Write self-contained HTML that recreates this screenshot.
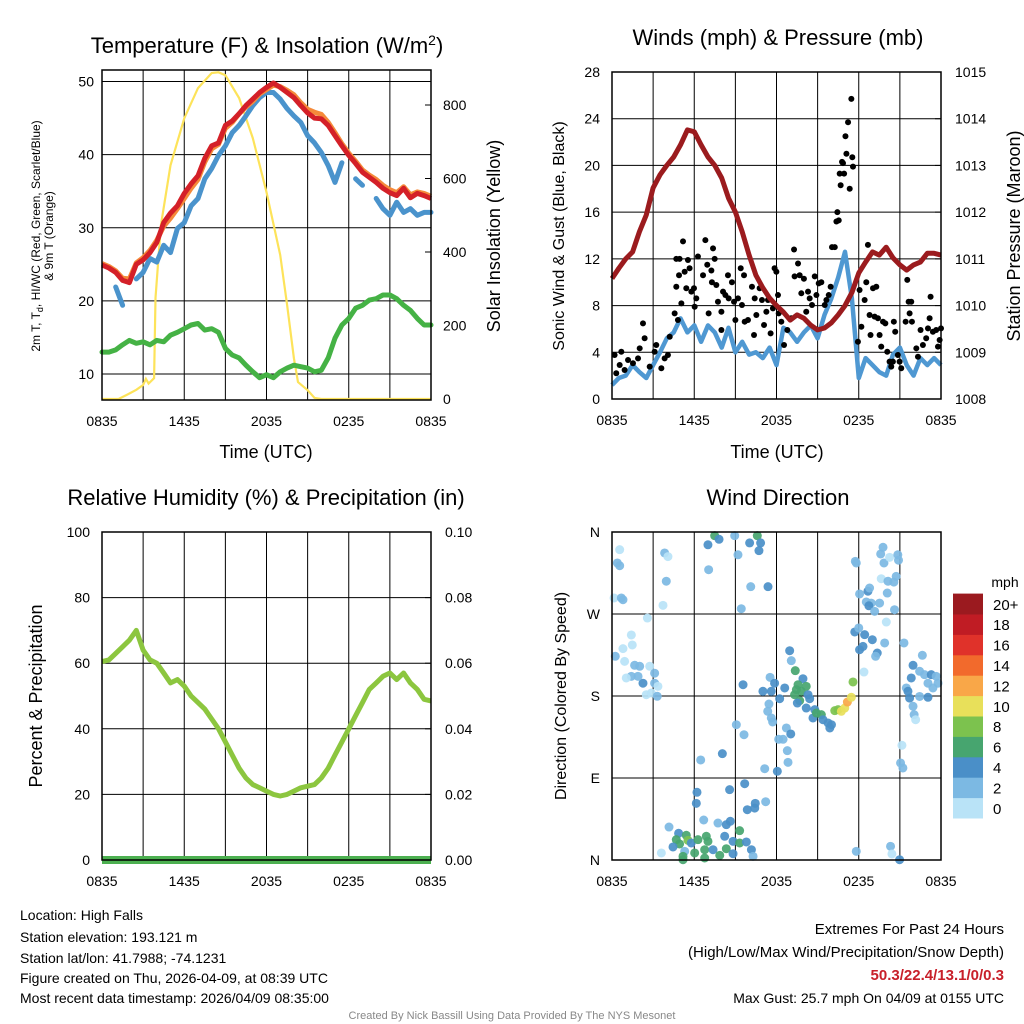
<!DOCTYPE html>
<html><head><meta charset="utf-8"><style>
body{margin:0;background:#fff;}
svg{display:block;font-family:"Liberation Sans",Arial,sans-serif;}
</style></head><body>
<svg id="c" width="1024" height="1024" viewBox="0 0 1024 1024">
<rect width="1024" height="1024" fill="#fff"/>
<g id="p1"></g>
<g id="p2"></g>
<g id="p3"></g>
<g id="p4"></g>
<text x="267" y="53" font-size="22" text-anchor="middle">Temperature (F) &amp; Insolation (W/m<tspan dy="-8" font-size="14">2</tspan><tspan dy="8">)</tspan></text>
<text x="778" y="45" font-size="22" text-anchor="middle">Winds (mph) &amp; Pressure (mb)</text>
<text x="266" y="505" font-size="22" text-anchor="middle">Relative Humidity (%) &amp; Precipitation (in)</text>
<text x="778" y="505" font-size="22" text-anchor="middle">Wind Direction</text>
<text transform="translate(40,236) rotate(-90)" font-size="12" text-anchor="middle">2m T, T<tspan font-size="9" dy="3">d</tspan><tspan dy="-3">, HI/WC (Red, Green, Scarlet/Blue)</tspan></text>
<text transform="translate(53,236) rotate(-90)" font-size="12" text-anchor="middle">&amp; 9m T (Orange)</text>
<text transform="translate(500,236) rotate(-90)" font-size="18" text-anchor="middle">Solar Insolation (Yellow)</text>
<text transform="translate(564,236) rotate(-90)" font-size="16" text-anchor="middle">Sonic Wind &amp; Gust (Blue, Black)</text>
<text transform="translate(1020,236) rotate(-90)" font-size="18" text-anchor="middle">Station Pressure (Maroon)</text>
<text transform="translate(42,696) rotate(-90)" font-size="18" text-anchor="middle">Percent &amp; Precipitation</text>
<text transform="translate(566,696) rotate(-90)" font-size="16" text-anchor="middle">Direction (Colored By Speed)</text>
<text x="266" y="458" font-size="18" text-anchor="middle">Time (UTC)</text>
<text x="777" y="458" font-size="18" text-anchor="middle">Time (UTC)</text>
<g font-size="14">
<text x="20" y="920">Location: High Falls</text>
<text x="20" y="942">Station elevation: 193.121 m</text>
<text x="20" y="963">Station lat/lon: 41.7988; -74.1231</text>
<text x="20" y="983">Figure created on Thu, 2026-04-09, at 08:39 UTC</text>
<text x="20" y="1003">Most recent data timestamp: 2026/04/09 08:35:00</text>
</g>
<g font-size="15" text-anchor="end">
<text x="1004" y="934">Extremes For Past 24 Hours</text>
<text x="1004" y="957">(High/Low/Max Wind/Precipitation/Snow Depth)</text>
<text x="1004" y="980" fill="#c8202a" font-weight="bold">50.3/22.4/13.1/0/0.3</text>
<text x="1004" y="1003" font-size="14">Max Gust: 25.7 mph On 04/09 at 0155 UTC</text>
</g>
<text x="512" y="1019" font-size="11" fill="#888" text-anchor="middle">Created By Nick Bassill Using Data Provided By The NYS Mesonet</text>
</svg>
<script>
const hours=[0,0.5,1,1.5,2,2.5,3,3.5,4,4.5,5,5.5,6,6.5,7,7.5,8,8.5,9,9.5,10,10.5,11,11.5,12,12.5,13,13.5,14,14.5,15,15.5,16,16.5,17,17.5,18,18.5,19,19.5,20,20.5,21,21.5,22,22.5,23,23.5,24];
const xTickLabels=["0835","1435","2035","0235","0835"];
const tempRed=[24.9,24.5,23.9,22.8,22.5,25,25.6,26.6,28,30.7,32,33,34.7,36,37.1,39.5,41.2,41.6,44,44.6,45.6,46.7,47.6,48.5,49.2,49.8,49.2,48.5,47.8,46.7,45.7,45,44.9,44,42.6,41.2,39.9,38.8,37.6,36.9,36.2,35.4,34.8,34.4,35.4,34.1,34.7,34.4,34];
const temp9m=[25.1,24.7,24.1,23.1,23.0,25.2,25.9,26.9,28.3,30.2,31.3,32.6,34.0,35.4,36.6,39.0,40.8,41.4,43.6,44.4,45.6,46.5,47.3,48.3,48.9,49.5,49.3,48.8,48.2,47.1,46.2,45.8,45.5,44.4,43.0,41.5,40.2,39.1,37.9,37.2,36.6,35.8,35.2,34.8,35.6,34.5,34.9,34.7,34.3];
const windChill=[null,null,21.9,19.4,null,23,23.9,25.8,25.3,27.6,26.6,29.9,30.7,33,34,36.7,38.1,39.9,41.2,43,44,45.3,46.7,47.8,48.5,48.5,47.6,46.3,45.3,44.4,42.6,41.6,40.3,38.5,36.2,38.9,null,36.7,35.8,null,34,32.6,31.7,33.5,32.1,32.6,31.7,32.1,32.1];
const dewPoint=[13,13,13.3,14,14.6,14.2,14.4,14,14.6,14.4,15.3,15.7,16.2,16.7,16.9,16,16.2,15.7,13.5,12.6,12.2,11.2,10.3,9.5,9.9,9.5,10.3,10.8,11.2,11,10.8,10.3,10.5,12.2,14.9,16.7,17.6,19,19.4,20.1,20.3,20.8,20.8,20.3,19.4,18.7,17.6,16.7,16.7];
const solHours=[0,1.2,2,2.5,3,3.2,3.4,3.8,3.9,4.3,5,6,7,8,8.5,9,10,11,12,13,13.5,14,14.3,15,15.5,16,24];
const solVals=[0,0,15,25,38,55,42,57,275,473,636,764,846,887,889,881,819,710,563,392,256,111,46,24,3,0,0];
const tempTicks=[10,20,30,40,50];
const solTicks=[0,200,400,600,800];
const pressure=[1010.58,1010.8,1011.0,1011.15,1011.58,1011.94,1012.52,1012.8,1013.0,1013.18,1013.44,1013.76,1013.72,1013.44,1013.18,1013.0,1012.73,1012.3,1012.0,1011.58,1011.08,1010.65,1010.38,1010.16,1010.0,1009.86,1009.69,1009.8,1009.73,1009.58,1009.48,1009.52,1009.63,1009.8,1010.0,1010.28,1010.7,1010.93,1011.15,1011.08,1011.25,1011.02,1010.87,1010.76,1010.87,1010.93,1011.12,1011.12,1011.08];
const windSpeed=[1.2,1.8,2.0,2.9,2.3,1.8,2.9,4.0,5.2,5.7,6.9,5.7,6.3,4.9,6.3,5.7,4.4,6.1,4.0,4.9,3.8,4.0,3.5,4.4,2.9,6.1,5.7,4.9,5.7,6.3,5.2,7.2,8.6,10.4,12.6,8.6,1.8,3.5,2.9,2.3,2.0,3.8,4.4,2.9,2.0,3.5,2.9,3.5,2.9];
const gustHours=[0.19,0.31,0.68,0.56,0.92,1.17,1.53,1.9,2.02,2.26,2.38,2.75,3.11,3.23,3.6,3.84,4.08,4.21,4.57,4.69,4.81,4.69,4.93,4.89,5.06,5.18,5.3,5.54,5.66,5.42,5.79,5.98,6.03,6.27,6.15,6.64,6.81,6.95,7.05,7.25,7.29,7.37,7.49,7.61,7.73,7.98,7.98,8.1,8.27,8.46,8.51,8.75,8.9,9.0,9.19,9.39,9.48,9.63,9.68,9.92,10.21,10.36,10.41,10.53,10.77,10.94,11.09,11.26,11.38,11.57,11.74,11.86,11.99,12.11,12.16,12.35,12.55,12.79,13.08,13.28,13.32,13.57,13.69,13.81,14.0,14.17,14.3,14.42,14.59,14.79,14.91,15.08,15.27,15.52,15.64,15.81,15.95,16.05,16.25,16.37,16.44,16.54,16.61,16.68,16.78,16.93,17.03,17.1,17.22,17.34,17.46,17.53,17.58,16.85,17.94,18.06,18.19,18.43,18.55,18.67,18.79,18.86,19.04,19.16,19.28,19.4,19.52,19.64,19.77,19.94,20.08,20.25,20.37,20.49,20.56,20.66,20.85,20.98,21.1,21.42,21.54,21.64,21.71,21.83,21.88,22.2,22.32,22.51,22.68,22.92,23.05,23.24,23.17,23.41,23.65,23.78,23.9,24.0];
const gustVals=[3.77,2.2,4.05,2.91,2.48,3.34,3.06,3.48,4.34,6.48,5.2,2.77,4.05,4.62,2.63,3.48,3.77,5.33,7.33,9.61,6.76,12.0,12.0,10.6,8.19,13.5,10.9,11.9,11.2,9.48,9.19,9.48,7.9,12.2,8.62,10.6,13.6,11.5,7.33,11.0,10.0,12.9,12.0,9.76,8.33,7.47,5.91,9.19,8.9,10.6,8.62,10.0,8.33,6.76,8.62,11.2,8.05,10.6,6.62,6.76,9.61,5.48,8.62,7.19,9.48,8.48,6.34,7.47,8.48,5.62,7.76,11.2,10.9,8.9,7.33,6.62,4.62,5.91,6.91,12.8,10.5,11.6,10.6,9.05,10.3,7.47,9.19,8.62,8.05,10.5,8.9,9.9,10.0,8.05,8.48,8.9,9.61,13.0,13.0,15.2,16.0,15.3,19.3,18.3,20.3,19.3,22.5,21.0,23.7,18.0,25.7,20.7,19.9,20.2,4.9,9.33,6.19,8.48,10.0,13.2,7.19,5.48,9.48,7.05,9.61,6.91,5.48,4.48,6.62,6.48,4.05,3.2,2.77,3.2,6.62,5.76,3.77,3.2,2.63,6.62,10.2,8.33,7.33,8.33,6.62,4.34,3.62,5.91,4.62,5.2,6.05,8.76,6.91,5.76,5.91,4.48,5.05,6.05];
const windTicks=[0,4,8,12,16,20,24,28];
const presTicks=[1008,1009,1010,1011,1012,1013,1014,1015];
const rhVals=[60.5,61,63,65,67,70,64,61,60,57,54,55,53,50,48,46,43,40,36,32,28,25,23,22,21,20,19.5,20,21,22,22.5,23,25,28,32,36,40,44,48,52,54,56,57,55,57,54,52,49,48.5];
const precipVals=[0,0,0,0,0,0,0,0,0,0,0,0,0,0,0,0,0,0,0,0,0,0,0,0,0,0,0,0,0,0,0,0,0,0,0,0,0,0,0,0,0,0,0,0,0,0,0,0,0];
const rhTicks=[0,20,40,60,80,100];
const precipTicks=["0.00","0.02","0.04","0.06","0.08","0.10"];
const dirHours=[0.56,0.39,0.56,0.15,0.68,0.8,3.84,4.08,3.96,3.72,2.58,1.41,0.8,1.48,0.24,0.92,1.65,2.02,2.75,1.41,2.26,3.11,3.11,3.35,2.5,2.87,3.3,1.04,1.9,7.0,7.49,7.81,7.05,8.95,9.19,10.04,10.6,10.84,10.72,10.12,11.38,9.43,9.56,9.07,9.63,8.05,6.47,9.68,8.58,6.2,6.15,10.45,11.21,9.87,10.41,6.69,7.73,8.34,8.63,4.16,4.86,5.42,5.54,4.69,4.93,4.45,5.3,5.18,3.6,5.78,6.27,6.88,7.0,8.22,8.83,9.31,9.31,9.8,10.17,10.29,6.03,6.76,7.37,7.86,8.34,8.83,5.18,6.76,11.53,11.86,11.62,11.01,12.6,12.96,13.08,13.37,13.93,13.57,13.81,13.45,14.17,13.32,13.69,14.3,14.42,13.52,12.23,11.45,11.36,11.62,11.72,12.72,13.04,12.16,12.48,12.79,12.84,12.06,11.14,14.17,14.79,14.66,14.91,15.27,15.39,15.76,16.01,15.89,16.25,16.49,16.73,16.98,17.17,17.46,17.58,17.71,18.0,18.06,18.31,18.43,18.99,19.35,19.23,18.38,17.82,17.75,18.06,18.67,18.79,18.55,18.91,18.74,19.16,19.52,20.01,20.08,19.64,20.13,20.56,20.73,19.6,19.77,19.84,20.25,20.85,20.9,20.61,19.89,21.3,22.64,21.96,21.83,22.44,22.8,23.29,23.65,23.78,23.05,23.41,21.47,21.59,21.71,22.44,23.05,21.96,22.04,22.15,21.15,21.05,21.22,20.32,20.42,20.98,17.82];
const dirDeg=[340.6,326,323,287.6,287.6,285.7,337,333,306,279.5,265.6,247,232,236,223.6,218,213.7,212.6,212.6,201.6,194,205,194,190.6,181.4,183.3,179.7,199.8,201.6,346,356,352,318.6,356,335,348,356,348,339.5,300,300,275.8,192.4,148.5,137.5,116.7,109.8,83.7,77.2,74.3,62.2,62.2,64,55.2,57,43.9,40.6,38.8,42.5,36.2,29.3,27.1,21.6,22.3,17.6,14.3,9.5,4,7.7,18.7,22.3,26,20.5,26,20.5,32.2,18.7,19.8,11.3,4,7.7,11.3,11.3,5.1,12.4,6.9,0.3,2.2,200.5,194,185.2,185.2,188.8,229.7,218.8,207.8,199,192.4,185.2,187,190.6,181.4,174.9,181.4,177,172.3,177,171.2,163.2,155.9,151.5,144.9,138.3,132.5,132.5,120,107.2,97.4,100.2,166.8,165,155.9,161.3,159.5,154,150.4,148.5,144.9,163.9,165,163.2,166.8,173.4,178.6,195.4,250.3,254.7,230.8,234.4,247.3,241.8,227.2,223.6,206.3,326,327.8,292,295,298.5,283.2,282,279,272.9,282,261.2,293,308.7,306,305,311.3,335.9,343.2,326,332.2,335,329,274.7,238.2,238.2,224.7,213.7,199.8,207.1,203.4,203.4,201.6,194,194,188.8,188.8,185.2,177.7,179.5,178.6,168.7,159.5,154,125.9,106.5,101,15,6.6,0.3,9.5];
const dirSpeed=[1,3,3,1,3,3,3,1,3,1,1,1,1,1,3,1,3,3,1,3,5,3,3,1,1,1,3,1,3,5,7,5,3,3,3,5,7,5,5,3,5,3,5,3,3,5,3,5,5,5,5,5,3,5,5,3,3,5,5,3,5,7,9,7,7,5,3,7,1,5,7,7,7,5,5,7,7,5,5,3,7,7,5,7,7,5,7,7,3,5,5,5,5,5,3,7,5,7,7,7,7,7,7,5,5,5,5,3,3,3,3,3,5,3,3,3,3,5,3,5,5,5,7,7,5,5,5,5,9,9,11,11,13,11,9,5,3,5,5,5,5,5,3,1,3,3,3,5,3,3,3,5,3,3,1,3,1,3,3,3,3,3,3,1,3,3,3,3,3,3,5,5,3,3,5,3,3,3,3,3,5,5,3,5,3,3,1,1,3,3,3,1,5,3];
const speedBins=["0","2","4","6","8","10","12","14","16","18","20+"];
const speedColors=["#b9e3f7","#7cb9e3","#4a8fc8","#47a56f","#7cc24e","#e8e05a","#f9a748","#f26a2c","#e0322a","#c01c24","#9b1a1f"];
const dirLabels=["N","E","S","W","N"];

const NS="http://www.w3.org/2000/svg";
function mk(parent,tag,attrs){const e=document.createElementNS(NS,tag);for(const k in attrs)e.setAttribute(k,attrs[k]);parent.appendChild(e);return e;}
function lin(d0,d1,r0,r1){return v=>r0+(v-d0)*(r1-r0)/(d1-d0);}
function pathFrom(xs,ys,xf,yf){let d="",pen=false;for(let i=0;i<xs.length;i++){if(ys[i]===null){pen=false;continue;}d+=(pen?"L":"M")+xf(xs[i]).toFixed(1)+","+yf(ys[i]).toFixed(1);pen=true;}return d;}
function txt(parent,x,y,s,anchor,size){const t=mk(parent,"text",{x:x,y:y,"text-anchor":anchor,"font-size":size||14});t.textContent=s;return t;}

function frame(g,L,R,T,B){
  const xs=lin(0,24,L,R);
  for(let h=3;h<24;h+=3){const l=mk(g,"line",{x1:xs(h),x2:xs(h),y1:T,y2:B,stroke:"#000","stroke-width":1});
    
    }
  xTickLabels.forEach((s,i)=>{const t=txt(g,xs(i*6),B+26,s,"middle",14);
    
    });
  return xs;
}
function box(g,L,R,T,B){const r=mk(g,"rect",{x:L,y:T,width:R-L,height:B-T,fill:"none",stroke:"#000","stroke-width":1.5});
  
  }
function hgrid(g,L,R,yv){const l=mk(g,"line",{x1:L,x2:R,y1:yv,y2:yv,stroke:"#000","stroke-width":1});
  
  }

// Panel 1
(function(){
  const g=document.getElementById("p1");const L=102,R=431,T=70,B=400;
  const xs=frame(g,L,R,T,B);
  const yT=lin(10,50,374,81.5), yS=lin(0,800,399,105);
  tempTicks.forEach(v=>{hgrid(g,L,R,yT(v));const t=txt(g,L-8,yT(v)+5,String(v),"end");
    
    });
  solTicks.forEach(v=>{mk(g,"line",{x1:R,x2:R-6,y1:yS(v),y2:yS(v),stroke:"#000"});const t=txt(g,R+12,yS(v)+5,String(v),"start");
    
    });
  let p;
  p=mk(g,"path",{d:pathFrom(solHours,solVals,xs,yS),fill:"none",stroke:"#fde35a","stroke-width":2.2});
  
  
  p=mk(g,"path",{d:pathFrom(hours,dewPoint,xs,yT),fill:"none",stroke:"#45b245","stroke-width":5,"stroke-linejoin":"round","stroke-linecap":"round"});
  
  
  p=mk(g,"path",{d:pathFrom(hours,windChill,xs,yT),fill:"none",stroke:"#4a93cc","stroke-width":5,"stroke-linejoin":"round","stroke-linecap":"round"});
  
  
  p=mk(g,"path",{d:pathFrom(hours,temp9m,xs,yT),fill:"none",stroke:"#f58a3a","stroke-width":5,"stroke-linejoin":"round"});
  
  
  p=mk(g,"path",{d:pathFrom(hours,tempRed,xs,yT),fill:"none",stroke:"#d42028","stroke-width":5,"stroke-linejoin":"round"});
  
  
  box(g,L,R,T,B);
})();

// Panel 2
(function(){
  const g=document.getElementById("p2");const L=612,R=941,T=72,B=399;
  const xs=frame(g,L,R,T,B);
  const yW=lin(0,28,399,72), yP=lin(1008,1015,399,72);
  windTicks.forEach(v=>{if(v>0&&v<28)hgrid(g,L,R,yW(v));const t=txt(g,L-12,yW(v)+5,String(v),"end");
    
    });
  presTicks.forEach(v=>{mk(g,"line",{x1:R,x2:R-6,y1:yP(v),y2:yP(v),stroke:"#000"});const t=txt(g,R+14,yP(v)+5,String(v),"start");
    
    });
  let p=mk(g,"path",{d:pathFrom(hours,windSpeed,xs,yW),fill:"none",stroke:"#4f98d2","stroke-width":4.5,"stroke-linejoin":"round"});
  
  
  gustHours.forEach((h,i)=>{const c=mk(g,"circle",{cx:xs(h),cy:yW(gustVals[i]),r:3,fill:"#000"});
    
    });
  p=mk(g,"path",{d:pathFrom(hours,pressure,xs,yP),fill:"none",stroke:"#9b1b1e","stroke-width":5,"stroke-linejoin":"round"});
  
  
  box(g,L,R,T,B);
})();

// Panel 3
(function(){
  const g=document.getElementById("p3");const L=102,R=431,T=532,B=860;
  const xs=frame(g,L,R,T,B);
  const yR=lin(0,100,860,532);
  rhTicks.forEach((v,i)=>{if(v>0&&v<100)hgrid(g,L,R,yR(v));const t=txt(g,L-12,yR(v)+5,String(v),"end");
    
    
    mk(g,"line",{x1:R,x2:R-6,y1:yR(v),y2:yR(v),stroke:"#000"});
    const t2=txt(g,R+14,yR(v)+5,precipTicks[i],"start");
    
    });
  let p=mk(g,"path",{d:pathFrom(hours,rhVals,xs,yR),fill:"none",stroke:"#8cc63f","stroke-width":5,"stroke-linejoin":"round"});
  
  
  const yPr=lin(0,0.1,860,532);
  p=mk(g,"path",{d:pathFrom(hours,precipVals,xs,yPr),fill:"none",stroke:"#4cb050","stroke-width":8});
  
  
  box(g,L,R,T,B);
})();

// Panel 4
(function(){
  const g=document.getElementById("p4");const L=612,R=941,T=532,B=860;
  const xs=frame(g,L,R,T,B);
  const yD=lin(0,360,860,532);
  dirLabels.forEach((s,i)=>{if(i>0&&i<4)hgrid(g,L,R,yD(i*90));const t=txt(g,L-12,yD(i*90)+5,s,"end");
    
    });
  dirHours.forEach((h,i)=>{const bin=Math.min(10,Math.floor(dirSpeed[i]/2));
    const c=mk(g,"circle",{cx:xs(h),cy:yD(dirDeg[i]),r:4.5,fill:speedColors[bin],"fill-opacity":0.92});
    
    });
  box(g,L,R,T,B);
  const t0=txt(g,1005,587,"mph","middle",14);
  
  
  const bh=20.4;
  speedBins.forEach((s,i)=>{const y=818-(i+1)*bh;
    const r=mk(g,"rect",{x:953,y:y,width:30,height:bh+0.5,fill:speedColors[i]});
    
    
    const t=txt(g,993,y+bh/2+6,s,"start",15);
    
    });
})();
</script>
</body></html>
